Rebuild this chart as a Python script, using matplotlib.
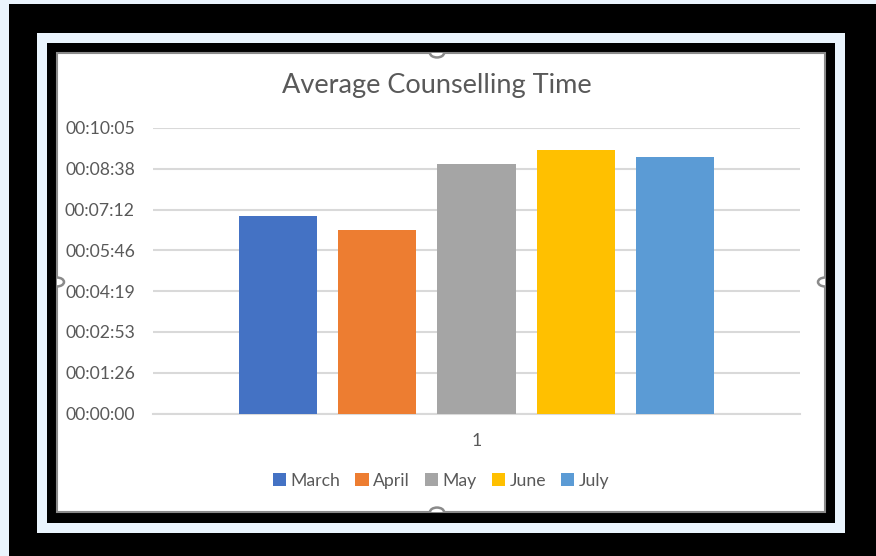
import pandas as pd
import matplotlib.pyplot as plt
from matplotlib.patches import Rectangle, Circle
from matplotlib.ticker import FuncFormatter, MultipleLocator

# Data (average counselling time per month, hh:mm:ss)
months = ["March", "April", "May", "June", "July"]
avg_times = ["00:06:59", "00:06:29", "00:08:49", "00:09:18", "00:09:03"]
colors = ["#4472C4", "#ED7D31", "#A5A5A5", "#FFC000", "#5B9BD5"]
category = "1"

seconds = pd.to_timedelta(avg_times).total_seconds()

W, H = 876, 556
TEXT = "#595959"
GRID = "#D9D9D9"
LIGHT = "#EAF4FD"

plt.rcParams['font.family'] = ['Lato', 'DejaVu Sans']

fig = plt.figure(figsize=(W / 100, H / 100), dpi=100)
fig.patch.set_facecolor("black")


def px_rect(x0, y0, x1, y1, **kw):
    # rectangle in pixel coords (origin top-left)
    return Rectangle((x0 / W, 1 - y1 / H), (x1 - x0) / W, (y1 - y0) / H,
                     transform=fig.transFigure, **kw)


# frames
fig.add_artist(px_rect(0, 0, 9, H, facecolor=LIGHT, edgecolor="none", zorder=-10))
fig.add_artist(px_rect(0, 0, W, 4, facecolor=LIGHT, edgecolor="none", zorder=-10))
fig.add_artist(px_rect(37, 33, 845, 533, facecolor=LIGHT, edgecolor="none", zorder=-9))
fig.add_artist(px_rect(47, 43, 835, 523, facecolor="black", edgecolor="none", zorder=-8))
chart = px_rect(57, 53, 825, 512, facecolor="white", edgecolor="#8a8a8a",
                linewidth=1.5, zorder=-7)
fig.add_artist(chart)

# selection handles
for hx, hy in [(437, 53), (437, 512), (57, 282), (825, 282)]:
    c = Circle((hx / W, 1 - hy / H), 7 / W, transform=fig.transFigure,
               facecolor="white", edgecolor="#8a8a8a", linewidth=1.8, zorder=-6)
    fig.add_artist(c)
    c.set_clip_path(chart)

# plot area
ax = fig.add_axes([153 / W, 1 - 413.5 / H, 647 / W, 285.5 / H])
ax.set_facecolor("none")

x = range(len(months))
for i in x:
    ax.bar(i, seconds[i], width=0.785, color=colors[i], label=months[i], zorder=3)

step = 86.4
ax.set_ylim(0, step * 7)
ax.set_xlim(-1.255, 5.255)
ax.yaxis.set_major_locator(MultipleLocator(step))


def fmt(v, pos):
    s = int(round(v))
    return f"{s // 3600:02d}:{(s % 3600) // 60:02d}:{s % 60:02d}"


ax.yaxis.set_major_formatter(FuncFormatter(fmt))
ax.grid(axis="y", color=GRID, linewidth=1.5, zorder=0)
ax.set_xticks([2])
ax.set_xticklabels([category])
ax.tick_params(axis="both", length=0, labelcolor=TEXT, labelsize=12.7)
ax.tick_params(axis="y", pad=13)
ax.tick_params(axis="x", pad=14)
for side in ["top", "right", "left"]:
    ax.spines[side].set_visible(False)
ax.spines["bottom"].set_color(GRID)
ax.spines["bottom"].set_linewidth(1.5)

fig.text(437 / W, 1 - 86 / H, "Average Counselling Time", ha="center", va="center",
         fontsize=19.5, color=TEXT)

fig.legend(loc="center", bbox_to_anchor=(441 / W, 1 - 481 / H), ncol=5, frameon=False,
           handlelength=0.75, handleheight=0.75, handletextpad=0.25, columnspacing=0.85,
           fontsize=12.7, labelcolor=TEXT)

fig.savefig("out.png", dpi=100, facecolor=fig.get_facecolor())
